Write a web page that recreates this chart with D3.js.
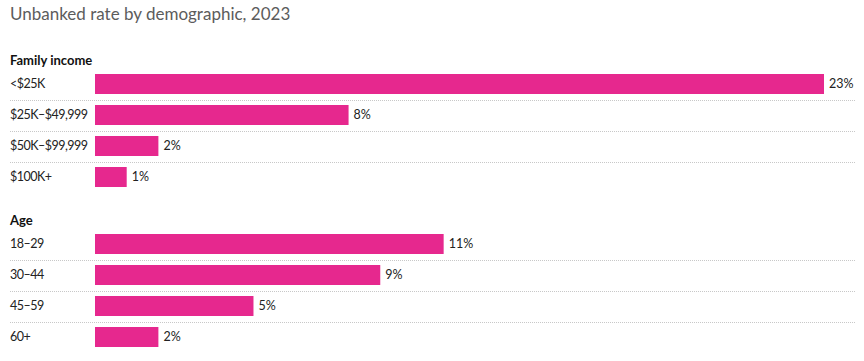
<!DOCTYPE html>
<meta charset="utf-8">
<style>
  body { margin: 0; background: #fff; }
  text { font-family: Lato, "Noto Sans", sans-serif; }
</style>
<svg width="864" height="361"></svg>
<script src="https://cdn.jsdelivr.net/npm/d3@7"></script>
<script>
var incomeLabels = ["<$25K", "$25K–$49,999", "$50K–$99,999", "$100K+"];
var incomeValues = [23, 8, 2, 1];
var ageLabels = ["18–29", "30–44", "45–59", "60+"];
var ageValues = [11, 9, 5, 2];
var groupTitles = ["Family income", "Age"];

var svg = d3.select("svg");

var x = d3.scaleLinear()
    .domain([0, 23])
    .range([95, 824]);

svg.append("text")
    .attr("x", 10)
    .attr("y", 20)
    .attr("font-size", 17)
    .attr("fill", "#5c5c5c")
    .text("Unbanked rate by demographic, 2023");

var groups = [
  { title: groupTitles[0], labels: incomeLabels, values: incomeValues, top: 74 },
  { title: groupTitles[1], labels: ageLabels, values: ageValues, top: 234 }
];

groups.forEach(function(grp) {
  var y = d3.scaleBand()
      .domain(grp.labels)
      .range([grp.top - 5.5, grp.top - 5.5 + 31 * grp.labels.length])
      .paddingInner(0.355)
      .paddingOuter(0.1775);

  var g = svg.append("g");

  g.append("text")
      .attr("x", 10)
      .attr("y", grp.top - 9)
      .attr("font-size", 13)
      .attr("font-weight", "bold")
      .attr("fill", "#111")
      .text(grp.title);

  // dotted separators between rows
  g.selectAll("line.sep")
    .data(grp.labels.slice(1))
    .enter().append("line")
      .attr("class", "sep")
      .attr("x1", 10)
      .attr("x2", 855)
      .attr("y1", function(d) { return Math.round(y(d) - y.step() * y.paddingInner() / 2) + 0.5; })
      .attr("y2", function(d) { return Math.round(y(d) - y.step() * y.paddingInner() / 2) + 0.5; })
      .attr("stroke", "#c8c8c8")
      .attr("stroke-dasharray", "1,1");

  var rows = grp.labels.map(function(l, i) { return { label: l, value: grp.values[i] }; });

  g.selectAll("rect")
    .data(rows)
    .enter().append("rect")
      .attr("x", x(0))
      .attr("y", function(d) { return y(d.label); })
      .attr("width", function(d) { return x(d.value) - x(0); })
      .attr("height", y.bandwidth())
      .attr("fill", "#e6288e");

  g.selectAll("text.cat")
    .data(rows)
    .enter().append("text")
      .attr("class", "cat")
      .attr("x", 10)
      .attr("y", function(d) { return y(d.label) + y.bandwidth() / 2; })
      .attr("dy", "0.35em")
      .attr("font-size", 12.5)
      .attr("letter-spacing", -0.5)
      .attr("fill", "#222")
      .text(function(d) { return d.label; });

  g.selectAll("text.val")
    .data(rows)
    .enter().append("text")
      .attr("class", "val")
      .attr("x", function(d) { return x(d.value) + 5; })
      .attr("y", function(d) { return y(d.label) + y.bandwidth() / 2; })
      .attr("dy", "0.35em")
      .attr("font-size", 12.5)
      .attr("fill", "#222")
      .text(function(d) { return d.value + "%"; });
});
</script>
